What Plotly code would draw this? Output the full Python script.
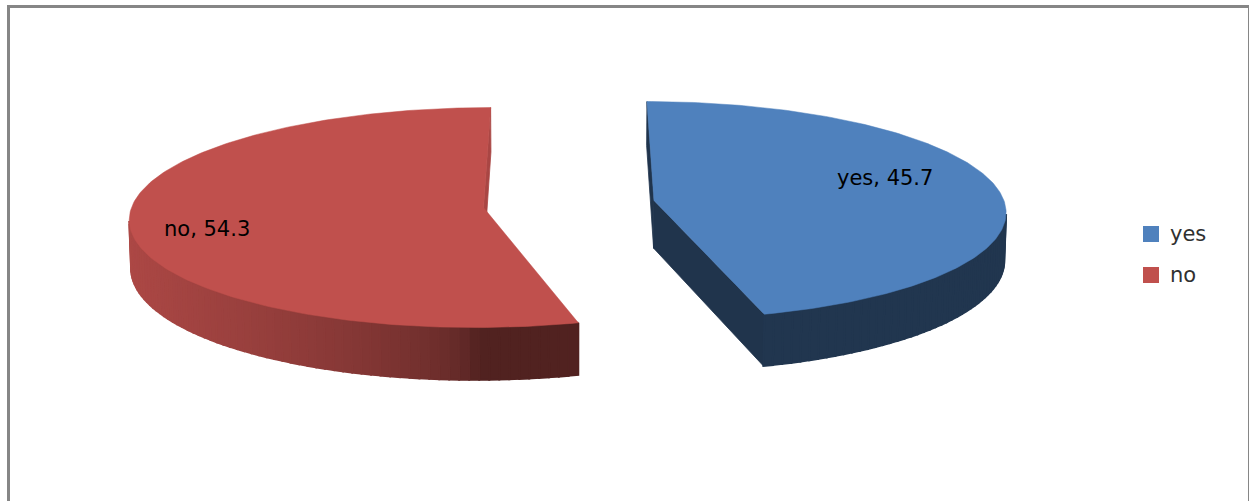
import numpy as np
import plotly.graph_objects as go

# ---- data -------------------------------------------------------------
categories = ["yes", "no"]
shares = [45.7, 54.3]
top_colors = ["#4F81BD", "#C0504D"]
cut_face_shade = [0.40, 0.88]          # brightness of the radial cut faces

# ---- 3-D pie geometry (world units: pie radius = 1) ---------------------
WIDTH, HEIGHT = 1249, 501
SCALE = 351.0          # pixels per radius at the pie centre depth
TILT = np.radians(18)  # elevation of the camera
PERSP = 0.095          # radius / camera distance
THICK = 0.144          # slab thickness
EXPLODE = 0.245        # outward offset of each slice
CX, CY = 569.0, 204.0  # screen position of the pie centre (top face)

cos_t, sin_t = np.cos(TILT), np.sin(TILT)
CAM = np.array([0.0, -cos_t / PERSP, sin_t / PERSP])


def project(X, Y, Z):
    X, Y, Z = np.asarray(X, float), np.asarray(Y, float), np.asarray(Z, float)
    w = 1 + PERSP * (Y * cos_t - Z * sin_t)
    return CX + SCALE * X / w, CY - SCALE * (Y * sin_t + Z * cos_t) / w


def faces_camera(normal, point):
    return float(np.dot(normal, CAM - np.asarray(point))) > 0


def shade(hex_color, f):
    h = hex_color.lstrip("#")
    rgb = [int(h[i:i + 2], 16) for i in (0, 2, 4)]
    return "rgb({},{},{})".format(*[int(round(min(255, c * f))) for c in rgb])


def rim_shade(theta_deg):
    return 0.42 + 0.48 * np.sqrt(max(0.0, -np.sin(np.radians(theta_deg))))


fig = go.Figure()


def add_poly(xs, ys, color, lw=0.8):
    xs, ys = list(xs), list(ys)
    fig.add_trace(go.Scatter(
        x=xs + [xs[0]], y=ys + [ys[0]], mode="lines", fill="toself",
        fillcolor=color, line=dict(color=color, width=lw),
        hoverinfo="skip", showlegend=False))


start = 0.0
for cat, val, col, cut_f in zip(categories, shares, top_colors, cut_face_shade):
    a0, a1 = start, start + 360.0 * val / 100.0
    start = a1
    mid = np.radians((a0 + a1) / 2)
    ox, oy = EXPLODE * np.sin(mid), EXPLODE * np.cos(mid)

    # radial cut faces
    for ang, sign in ((a0, -1), (a1, 1)):
        r = np.radians(ang)
        normal = np.array([np.sin(r + sign * np.pi / 2), np.cos(r + sign * np.pi / 2), 0.0])
        if faces_camera(normal, (ox, oy, 0.0)):
            X = [ox, ox + np.sin(r), ox + np.sin(r), ox]
            Y = [oy, oy + np.cos(r), oy + np.cos(r), oy]
            Z = [0, 0, -THICK, -THICK]
            px, py = project(X, Y, Z)
            add_poly(px, py, shade(col, cut_f))

    # curved outer wall: visible segment first as one band, then shaded strips
    thetas = np.linspace(a0, a1, int((a1 - a0) / 1.5) + 2)
    visible = []
    for t0, t1 in zip(thetas[:-1], thetas[1:]):
        tm = np.radians((t0 + t1) / 2)
        normal = np.array([np.sin(tm), np.cos(tm), 0.0])
        if faces_camera(normal, (ox + np.sin(tm), oy + np.cos(tm), -THICK / 2)):
            visible.append((t0, t1))
    if visible:
        band = np.radians(np.linspace(visible[0][0], visible[-1][1], 120))
        X = np.concatenate([ox + np.sin(band), ox + np.sin(band[::-1])])
        Y = np.concatenate([oy + np.cos(band), oy + np.cos(band[::-1])])
        Z = np.concatenate([np.zeros(len(band)), np.full(len(band), -THICK)])
        px, py = project(X, Y, Z)
        tmid = (visible[0][0] + visible[-1][1]) / 2
        add_poly(px, py, shade(col, rim_shade(tmid)), lw=0.5)
    for t0, t1 in visible:
        tm = (t0 + t1) / 2
        r0, r1 = np.radians(t0), np.radians(t1)
        X = [ox + np.sin(r0), ox + np.sin(r1), ox + np.sin(r1), ox + np.sin(r0)]
        Y = [oy + np.cos(r0), oy + np.cos(r1), oy + np.cos(r1), oy + np.cos(r0)]
        Z = [0, 0, -THICK, -THICK]
        px, py = project(X, Y, Z)
        add_poly(px, py, shade(col, rim_shade(tm)), lw=2)

    # top face
    arc = np.radians(np.linspace(a0, a1, 200))
    X = np.concatenate([[ox], ox + np.sin(arc)])
    Y = np.concatenate([[oy], oy + np.cos(arc)])
    px, py = project(X, Y, np.zeros_like(X))
    add_poly(px, py, col, lw=0.5)

# data labels
label_pos = {"yes": (885, 178), "no": (207, 229)}
for cat, val in zip(categories, shares):
    x, y = label_pos[cat]
    fig.add_annotation(x=x, y=y, text=f"{cat}, {val}", showarrow=False,
                       xanchor="center", yanchor="middle",
                       font=dict(family="DejaVu Sans", size=21, color="#000000"))

# legend
legend_x, legend_y0, legend_step = 1151, 234, 41
for i, (cat, col) in enumerate(zip(categories, top_colors)):
    y = legend_y0 + i * legend_step
    fig.add_trace(go.Scatter(x=[legend_x], y=[y], mode="markers",
                             marker=dict(symbol="square", size=16, color=col),
                             hoverinfo="skip", showlegend=False))
    fig.add_annotation(x=legend_x + 17, y=y, text=cat, showarrow=False,
                       xanchor="left", yanchor="middle",
                       font=dict(family="DejaVu Sans", size=21, color="#303030"))

# chart frame
fig.add_shape(type="rect", x0=8.5, y0=6.5, x1=1249.5, y1=530,
              line=dict(color="#868686", width=3), layer="above")

fig.update_layout(
    width=WIDTH, height=HEIGHT,
    margin=dict(l=0, r=0, t=0, b=0),
    paper_bgcolor="white", plot_bgcolor="white",
    xaxis=dict(range=[0, WIDTH], visible=False, fixedrange=True),
    yaxis=dict(range=[HEIGHT, 0], visible=False, fixedrange=True),
    showlegend=False,
)

fig.write_html("out.html")
